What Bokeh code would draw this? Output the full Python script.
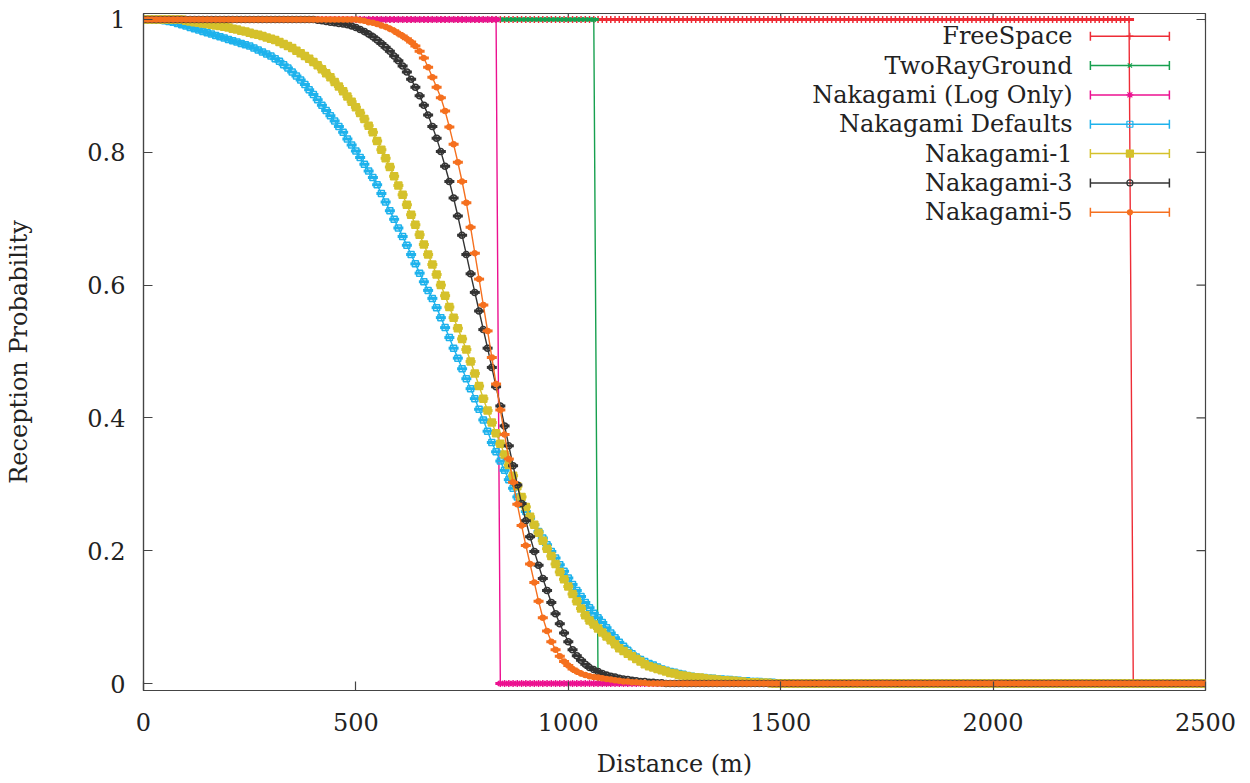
import math
from bokeh.plotting import figure
from bokeh.models import Range1d, FixedTicker
from bokeh.embed import file_html
from bokeh.resources import INLINE
from bokeh.core.properties import value

# ---------------- data ----------------
distance = list(range(0, 2510, 10))          # metres, 10 m steps
N = len(distance)

series_names = ["FreeSpace", "TwoRayGround", "Nakagami (Log Only)",
                "Nakagami Defaults", "Nakagami-1", "Nakagami-3", "Nakagami-5"]

# step curves (1 until the cut-off distance, then 0)
free_space = [1.0] * 233 + [0.0] * 18            # last 1 at 2320 m
two_ray_ground = [1.0] * 107 + [0.0] * 144       # last 1 at 1060 m
nakagami_log_only = [1.0] * 84 + [0.0] * 167     # last 1 at 830 m

# Nakagami Defaults: 30 m .. 1520 m
defaults_body = [
    0.999, 0.999, 0.998, 0.997, 0.996, 0.994, 0.992, 0.990,
    0.988, 0.986, 0.984, 0.982, 0.980, 0.978, 0.976, 0.974, 0.972, 0.970,
    0.968, 0.966, 0.964, 0.962, 0.960, 0.957, 0.954, 0.951, 0.948, 0.945,
    0.941, 0.937, 0.932, 0.927, 0.921, 0.915, 0.909, 0.902, 0.894, 0.887,
    0.879, 0.871, 0.863, 0.855, 0.847, 0.839, 0.830, 0.820, 0.811, 0.802,
    0.792, 0.782, 0.772, 0.762, 0.751, 0.738, 0.725, 0.712, 0.699, 0.686,
    0.673, 0.660, 0.646, 0.632, 0.618, 0.605, 0.592, 0.580, 0.566, 0.551,
    0.536, 0.521, 0.505, 0.490, 0.474, 0.459, 0.444, 0.429, 0.413, 0.397,
    0.380, 0.363, 0.349, 0.335, 0.321, 0.307, 0.294, 0.281, 0.270, 0.259,
    0.249, 0.239, 0.229, 0.219, 0.209, 0.199, 0.189, 0.179, 0.169, 0.159,
    0.149, 0.140, 0.131, 0.122, 0.114, 0.106, 0.099, 0.092, 0.084, 0.076,
    0.069, 0.062, 0.056, 0.050, 0.045, 0.040, 0.036, 0.033, 0.030, 0.028,
    0.025, 0.022, 0.020, 0.018, 0.017, 0.015, 0.014, 0.012, 0.011, 0.010,
    0.009, 0.009, 0.008, 0.008, 0.007, 0.007, 0.006, 0.006, 0.005, 0.005,
    0.004, 0.004, 0.003, 0.003, 0.003, 0.002, 0.002, 0.002, 0.001, 0.001,
    0.001, 0.001,
]
# Nakagami-1: 100 m .. 1470 m
nak1_body = [
    0.998, 0.997, 0.996, 0.995, 0.994, 0.993, 0.992, 0.991, 0.990, 0.989, 0.988,
    0.986, 0.985, 0.983, 0.982, 0.980, 0.978, 0.977, 0.975, 0.973, 0.971,
    0.969, 0.966, 0.963, 0.960, 0.957, 0.953, 0.949, 0.945, 0.941, 0.936,
    0.931, 0.925, 0.919, 0.913, 0.906, 0.899, 0.892, 0.884, 0.876, 0.868,
    0.859, 0.850, 0.840, 0.830, 0.817, 0.804, 0.791, 0.778, 0.764, 0.750,
    0.736, 0.721, 0.706, 0.691, 0.676, 0.661, 0.646, 0.631, 0.616, 0.600,
    0.584, 0.567, 0.551, 0.535, 0.519, 0.503, 0.485, 0.467, 0.448, 0.429,
    0.411, 0.393, 0.377, 0.361, 0.345, 0.329, 0.313, 0.297, 0.281, 0.266,
    0.251, 0.239, 0.227, 0.215, 0.203, 0.192, 0.180, 0.168, 0.157, 0.146,
    0.135, 0.124, 0.113, 0.103, 0.095, 0.089, 0.083, 0.077, 0.071, 0.065,
    0.059, 0.053, 0.049, 0.045, 0.041, 0.037, 0.033, 0.029, 0.026, 0.024,
    0.022, 0.020, 0.018, 0.016, 0.015, 0.013, 0.012, 0.011, 0.010, 0.009,
    0.009, 0.008, 0.007, 0.007, 0.006, 0.005, 0.005, 0.004, 0.004, 0.003,
    0.003, 0.002, 0.002, 0.002, 0.001, 0.001, 0.001,
]
# Nakagami-3: 410 m .. 1220 m
nak3_body = [
    0.999, 0.998, 0.997, 0.996, 0.995, 0.994, 0.993, 0.992, 0.990, 0.988,
    0.985, 0.982, 0.978, 0.974, 0.969, 0.964, 0.958, 0.952, 0.945, 0.938,
    0.930, 0.921, 0.910, 0.898, 0.885, 0.871, 0.856, 0.839, 0.821, 0.801,
    0.779, 0.756, 0.731, 0.704, 0.675, 0.646, 0.617, 0.589, 0.561, 0.533,
    0.505, 0.476, 0.447, 0.418, 0.388, 0.358, 0.328, 0.299, 0.271, 0.245,
    0.221, 0.199, 0.178, 0.158, 0.140, 0.122, 0.105, 0.090, 0.076, 0.063,
    0.051, 0.042, 0.035, 0.029, 0.024, 0.021, 0.018, 0.015, 0.013, 0.011,
    0.010, 0.008, 0.007, 0.006, 0.005, 0.004, 0.003, 0.003, 0.002, 0.002,
    0.001, 0.001,
]
# Nakagami-5: 510 m .. 1180 m
nak5_body = [
    0.999, 0.998, 0.996, 0.995, 0.993, 0.991, 0.989, 0.986, 0.983, 0.979,
    0.975, 0.971, 0.966, 0.960, 0.952, 0.942, 0.928, 0.913, 0.898, 0.882,
    0.862, 0.838, 0.812, 0.785, 0.756, 0.724, 0.687, 0.648, 0.609, 0.570,
    0.531, 0.491, 0.451, 0.412, 0.375, 0.338, 0.303, 0.270, 0.238, 0.208,
    0.180, 0.152, 0.124, 0.099, 0.079, 0.063, 0.051, 0.041, 0.033, 0.027,
    0.022, 0.018, 0.015, 0.013, 0.011, 0.010, 0.009, 0.008, 0.007, 0.006,
    0.005, 0.004, 0.003, 0.003, 0.002, 0.002, 0.001, 0.001,
]


def full(ones, body):
    vals = [1.0] * ones + body
    return vals + [0.0] * (N - len(vals))


nakagami_defaults = full(3, defaults_body)
nakagami_1 = full(10, nak1_body)
nakagami_3 = full(41, nak3_body)
nakagami_5 = full(51, nak5_body)

series_values = [free_space, two_ray_ground, nakagami_log_only,
                 nakagami_defaults, nakagami_1, nakagami_3, nakagami_5]

x_ticks = [0, 500, 1000, 1500, 2000, 2500]
y_ticks = [0, 0.2, 0.4, 0.6, 0.8, 1]
y_tick_labels = ["0", "0.2", "0.4", "0.6", "0.8", "1"]

# ---------------- style ----------------
colors = ["#ee2c36", "#17a04f", "#ec1190", "#1eb2ec", "#d5c12b", "#333333", "#f5701f"]
markers = ["cross", "x", "asterisk", "square", "square", "circle", "circle"]
msizes = [7, 6, 7, 6, 7, 6, 5]
mfilled = [False, False, False, False, True, False, True]
FONT = "DejaVu Serif"
TXT = "#222222"
AX = "#444444"

X_MIN, X_MAX = 0, 2500
Y_MIN, Y_MAX = -0.0105, 1.009
W, H = 1250, 783
BL, BR, BT, BB = 143, 45, 13, 93
frame_w, frame_h = W - BL - BR, H - BT - BB

p = figure(width=W, height=H, output_backend="svg", toolbar_location=None,
           x_range=Range1d(X_MIN, X_MAX), y_range=Range1d(Y_MIN, Y_MAX),
           min_border_left=BL, min_border_right=BR, min_border_top=BT,
           min_border_bottom=BB)
p.background_fill_color = "white"
p.border_fill_color = "white"
p.outline_line_color = AX
p.outline_line_width = 1.2
p.xgrid.visible = False
p.ygrid.visible = False

TICK = 9  # px, inward ticks


def style_axis(ax):
    ax.axis_line_color = AX
    ax.axis_line_width = 1.2
    ax.major_tick_in = TICK
    ax.major_tick_out = 0
    ax.major_tick_line_color = AX
    ax.major_tick_line_width = 1.2
    ax.minor_tick_line_color = None
    ax.major_label_text_font = FONT
    ax.major_label_text_font_size = "24px"
    ax.major_label_text_color = TXT
    ax.axis_label_text_font = FONT
    ax.axis_label_text_font_size = "24px"
    ax.axis_label_text_font_style = "normal"
    ax.axis_label_text_color = TXT


xax = p.xaxis[0]
yax = p.yaxis[0]
xax.ticker = FixedTicker(ticks=x_ticks)
yax.ticker = FixedTicker(ticks=y_ticks)
yax.major_label_overrides = {t: s for t, s in zip(y_ticks, y_tick_labels)}
xax.axis_label = "Distance (m)"
yax.axis_label = "Reception Probability"
style_axis(xax)
style_axis(yax)
xax.major_label_standoff = 22
xax.axis_label_standoff = 16
yax.major_label_standoff = 18
yax.axis_label_standoff = 51

# mirrored inward ticks on the top and right edges (gnuplot "mirror")
dy_tick = TICK * (Y_MAX - Y_MIN) / frame_h
dx_tick = TICK * (X_MAX - X_MIN) / frame_w
p.segment(x0=x_ticks, y0=[Y_MAX] * len(x_ticks), x1=x_ticks,
          y1=[Y_MAX - dy_tick] * len(x_ticks), line_color=AX, line_width=1.2)
p.segment(x0=[X_MAX] * len(y_ticks), y0=y_ticks, x1=[X_MAX - dx_tick] * len(y_ticks),
          y1=y_ticks, line_color=AX, line_width=1.2)

# ---------------- series ----------------
for vals, col, mk, ms, filled in zip(series_values, colors, markers, msizes, mfilled):
    p.line(distance, vals, line_color=col, line_width=1.4)
    p.scatter(distance, vals, marker="dash", size=10, line_color=col, line_width=3)
    p.scatter(distance, vals, marker=mk, size=ms, line_color=col, line_width=1.5,
              fill_color=col if filled else None)

# ---------------- legend (gnuplot style: text right-aligned, sample to its right) ----------------
leg_y0, leg_dy = 0.9748, 0.0442
leg_text_x, leg_x0, leg_x1, leg_xm = 2187, 2229, 2415, 2322
leg_y = [leg_y0 - i * leg_dy for i in range(len(series_names))]
p.text(x=[leg_text_x] * len(series_names), y=leg_y, text=series_names,
       text_font=value(FONT), text_font_size="24px", text_color=TXT,
       text_align="right", text_baseline="middle")
for yv, col, mk, ms, filled in zip(leg_y, colors, markers, msizes, mfilled):
    p.segment(x0=[leg_x0], y0=[yv], x1=[leg_x1], y1=[yv], line_color=col, line_width=1.5)
    p.scatter([leg_x0, leg_x1], [yv, yv], marker="dash", size=9, angle=math.pi / 2,
              line_color=col, line_width=1.5)
    p.scatter([leg_xm], [yv], marker=mk, size=ms, line_color=col, line_width=1.2,
              fill_color=col if filled else None)

open("out.html", "w").write(file_html(p, INLINE))
